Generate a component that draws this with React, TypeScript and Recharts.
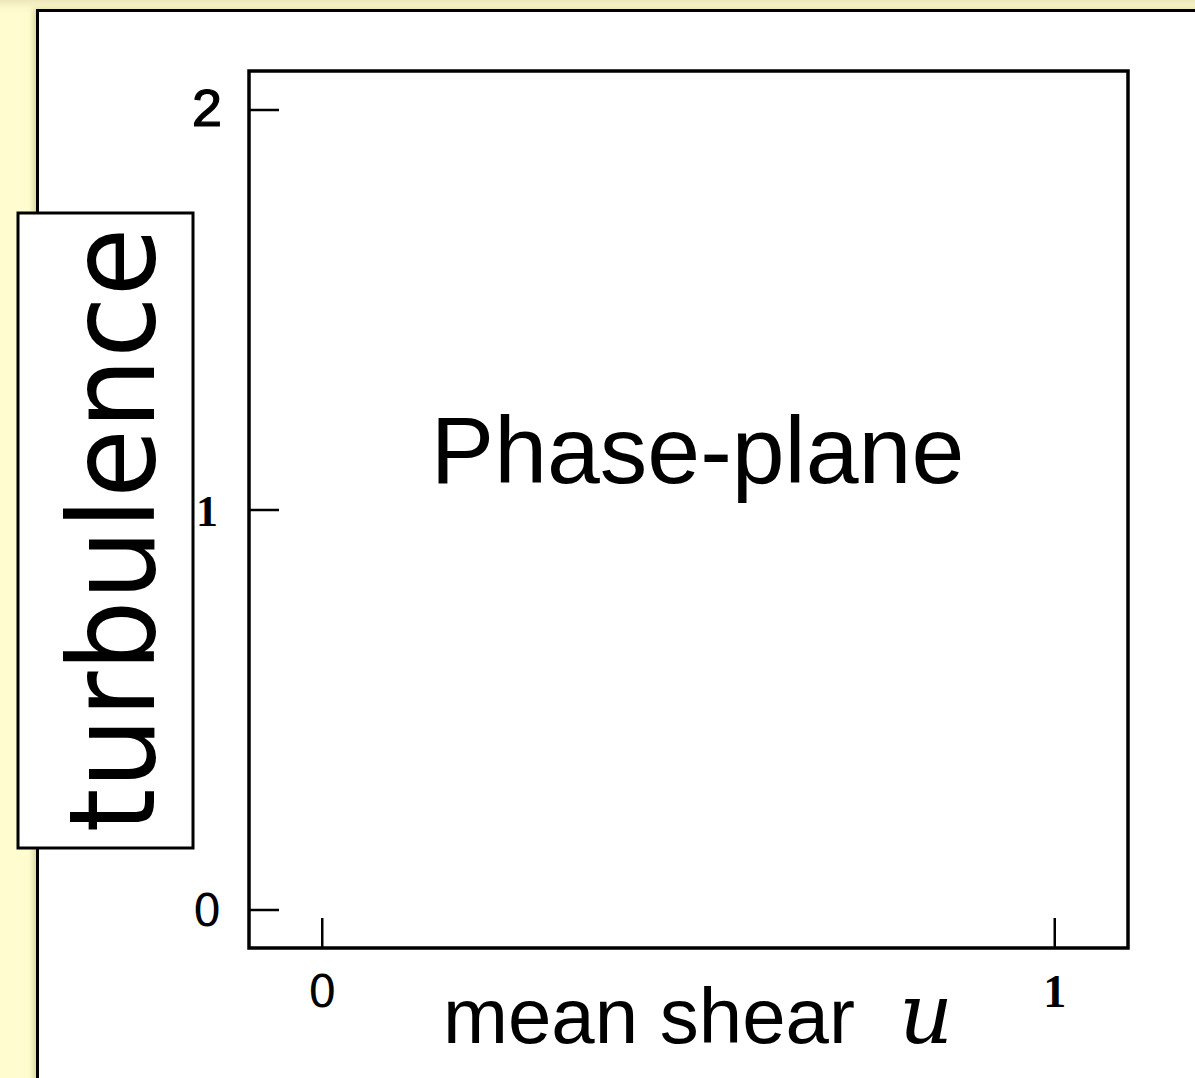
import {
  ScatterChart,
  Scatter,
  XAxis,
  YAxis,
  ReferenceArea,
  Label,
} from "recharts";

// axis setup
const xDomain = [-0.1, 1.1];
const yDomain = [-0.095, 2.0975];
const xTicks = [0, 1];
const yTicks = [0, 1, 2];

// labels
const xLabelWords = "mean shear";
const xLabelSymbol = "u";
const yLabelText = "turbulence";
const panelTitle = "Phase-plane";

// nothing plotted yet, just the empty plane
const phasePoints: { u: number; t: number }[] = [];

const W = 1195;
const H = 1078;
const TICK_LEN = 30;

// each tick label was typeset in a different face
const tickFonts: Record<string, { family: string; weight: string; size: number }> = {
  "x0": { family: "DejaVu Sans", weight: "normal", size: 45 },
  "x1": { family: "Liberation Serif", weight: "bold", size: 46 },
  "y0": { family: "DejaVu Sans", weight: "normal", size: 45 },
  "y1": { family: "Liberation Serif", weight: "bold", size: 44 },
  "y2": { family: "Liberation Mono", weight: "normal", size: 54 },
};

function YTick(props: any) {
  const { x, y, payload } = props;
  const f = tickFonts["y" + payload.value];
  return (
    <g>
      <line x1={x} x2={x + TICK_LEN} y1={y} y2={y} stroke="#000" strokeWidth={2.5} />
      <text
        x={x - 42}
        y={y + 16}
        textAnchor="middle"
        fontFamily={f.family}
        fontWeight={f.weight}
        fontSize={f.size}
        stroke={payload.value === 2 ? "#000" : "none"}
        strokeWidth={payload.value === 2 ? 1.2 : 0}
        fill="#000"
      >
        {payload.value}
      </text>
    </g>
  );
}

function XTick(props: any) {
  const { x, y, payload } = props;
  const f = tickFonts["x" + payload.value];
  return (
    <g>
      <line x1={x} x2={x} y1={y} y2={y - TICK_LEN} stroke="#000" strokeWidth={2.5} />
      <text
        x={x}
        y={y + 59}
        textAnchor="middle"
        fontFamily={f.family}
        fontWeight={f.weight}
        fontSize={f.size}
        fill="#000"
      >
        {payload.value}
      </text>
    </g>
  );
}

function XLabel(props: any) {
  const { x, y } = props.viewBox;
  return (
    <text x={x + 194} y={y + 95} fill="#000">
      <tspan fontFamily="Liberation Sans, Arial, sans-serif" fontSize={78}>
        {xLabelWords}
      </tspan>
      <tspan x={x + 650} fontFamily="DejaVu Serif, serif" fontStyle="italic" fontSize={84}>
        {xLabelSymbol}
      </tspan>
    </text>
  );
}

function YLabel() {
  const cx = 154;
  const cy = 530;
  return (
    <g>
      <rect x={18} y={213} width={175} height={635} fill="#fff" stroke="#000" strokeWidth={3} />
      <text
        x={cx}
        y={cy}
        transform={`rotate(-90, ${cx}, ${cy})`}
        textAnchor="middle"
        fontFamily="DejaVu Sans, sans-serif"
        fontSize={120}
        textLength={605}
        lengthAdjust="spacingAndGlyphs"
        fill="#000"
      >
        {yLabelText}
      </text>
    </g>
  );
}

function TitleLabel(props: any) {
  const { x, y, width } = props.viewBox;
  return (
    <text
      x={x + width / 2 + 9}
      y={y + 412}
      textAnchor="middle"
      fontFamily="Liberation Sans, Arial, sans-serif"
      fontSize={95}
      fill="#000"
    >
      {panelTitle}
    </text>
  );
}

export default function App() {
  return (
    <div
      style={{
        position: "absolute",
        left: 0,
        top: 0,
        width: W,
        height: H,
        overflow: "hidden",
        background: "linear-gradient(to bottom, #ece7bb 0px, #fbf8cb 8px, #fffccf 14px)",
      }}
    >
      <div
        style={{
          position: "absolute",
          left: 36,
          top: 9,
          width: W,
          height: H,
          background: "#fff",
          border: "3px solid #000",
          boxShadow: "-3px 0 5px rgba(120,110,40,0.25)",
        }}
      />
      <div style={{ position: "absolute", left: 0, top: 0 }}>
        <ScatterChart width={W} height={H} margin={{ top: 71, right: 67, bottom: 0, left: 0 }}>
          <XAxis
            type="number"
            dataKey="u"
            domain={xDomain}
            ticks={xTicks}
            interval={0}
            allowDataOverflow
            axisLine={false}
            tickLine={false}
            tickSize={0}
            tickMargin={0}
            height={130}
            tick={<XTick />}
          >
            <Label content={<XLabel />} />
          </XAxis>
          <YAxis
            type="number"
            dataKey="t"
            domain={yDomain}
            ticks={yTicks}
            interval={0}
            allowDataOverflow
            axisLine={false}
            tickLine={false}
            tickSize={0}
            tickMargin={0}
            width={249}
            tick={<YTick />}
          >
            <Label content={<YLabel />} />
          </YAxis>
          <ReferenceArea
            x1={xDomain[0]}
            x2={xDomain[1]}
            y1={yDomain[0]}
            y2={yDomain[1]}
            fill="none"
            stroke="#000"
            strokeWidth={3.5}
            ifOverflow="visible"
            label={<TitleLabel />}
          />
          <Scatter data={phasePoints} fill="#000" isAnimationActive={false} />
        </ScatterChart>
      </div>
    </div>
  );
}
